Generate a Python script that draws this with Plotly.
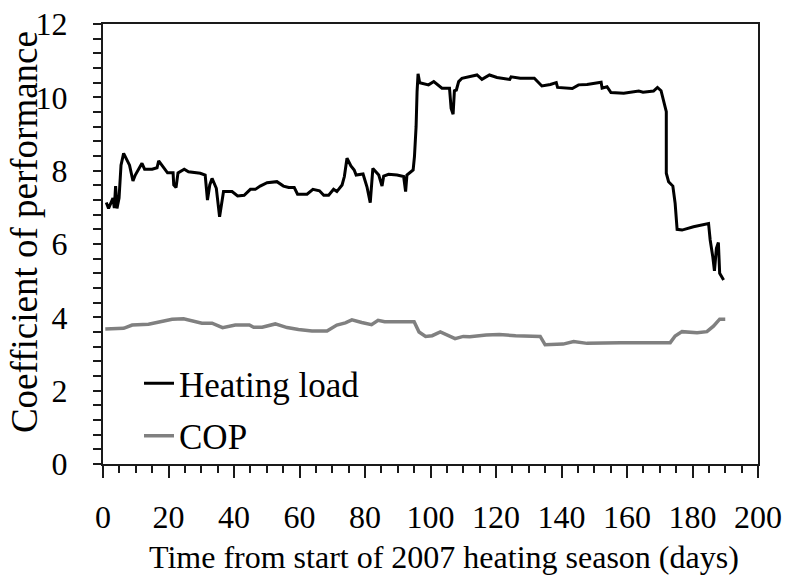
import plotly.graph_objects as go

# Heating load series (days, value)
heat_day = [1.0, 1.7, 3.05, 3.45, 3.85, 4.27, 4.9, 5.5, 6.3, 8.1, 9.15, 9.86, 11.9, 12.7, 15.0,
            16.5, 17.0, 18.0, 19.7, 21.4, 21.6, 22.3, 22.9, 24.8, 26.1, 29.7, 31.2, 31.9, 32.6,
            33.3, 34.6, 35.6, 36.8, 39.4, 41.1, 43.1, 45.0, 46.5, 48.0, 50.1, 53.1, 55.1, 56.7,
            58.4, 59.4, 62.3, 64.1, 66.1, 67.4, 68.9, 70.4, 71.4, 73.0, 73.7, 74.5, 75.7, 76.7,
            77.3, 79.4, 80.6, 81.6, 82.4, 84.2, 85.2, 85.7, 87.2, 89.8, 91.8, 92.4, 92.8, 94.7,
            95.1, 95.6, 95.9, 96.2, 96.7, 99.4, 101.0, 103.5, 105.8, 106.3, 106.9, 107.3, 107.9,
            108.6, 109.6, 114.2, 115.7, 118.0, 120.3, 124.2, 124.6, 127.4, 131.7, 134.0, 136.6,
            138.4, 138.8, 143.3, 145.2, 147.8, 152.1, 152.4, 153.9, 155.1, 159.0, 161.5, 163.6,
            164.9, 168.1, 169.3, 170.4, 172.0, 172.0, 172.7, 174.0, 174.7, 175.3, 176.8, 180.3,
            184.9, 185.4, 186.2, 186.7, 187.3, 187.9, 188.3, 189.5]
heat_val = [7.13, 6.97, 7.25, 6.98, 7.58, 6.97, 7.25, 8.15, 8.47, 8.15, 7.72, 7.88, 8.2, 8.04, 8.04,
            8.08, 8.27, 8.15, 7.94, 7.94, 7.61, 7.54, 7.94, 8.04, 7.97, 7.93, 7.88, 7.2, 7.61,
            7.79, 7.52, 6.74, 7.43, 7.43, 7.31, 7.33, 7.49, 7.49, 7.58, 7.67, 7.7, 7.58, 7.54,
            7.54, 7.36, 7.36, 7.49, 7.45, 7.33, 7.33, 7.49, 7.43, 7.61, 7.84, 8.34, 8.13, 8.02,
            7.88, 7.91, 7.56, 7.13, 8.06, 7.88, 7.58, 7.85, 7.9, 7.88, 7.84, 7.43, 7.88, 8.02,
            8.38, 9.2, 10.15, 10.64, 10.4, 10.34, 10.43, 10.25, 10.25, 9.7, 9.54, 10.18, 10.2,
            10.43, 10.52, 10.61, 10.49, 10.61, 10.54, 10.49, 10.56, 10.52, 10.52, 10.31, 10.35,
            10.4, 10.27, 10.24, 10.34, 10.35, 10.41, 10.25, 10.29, 10.13, 10.11, 10.15, 10.17,
            10.14, 10.17, 10.27, 10.18, 9.61, 7.93, 7.7, 7.58, 7.11, 6.4, 6.38, 6.47,
            6.56, 6.11, 5.65, 5.27, 5.88, 6.04, 5.2, 5.02]

# COP series (days, value)
cop_day = [0.7, 6.3, 8.9, 13.9, 17.5, 21.1, 24.6, 27.2, 30.2, 33.3, 36.5, 40.4, 44.7, 46.0, 48.6,
           52.6, 56.2, 59.7, 63.8, 68.4, 71.4, 74.0, 76.0, 79.0, 82.0, 84.0, 86.0, 95.0, 96.5,
           98.5, 100.5, 103.0, 105.0, 107.5, 110.0, 112.0, 117.0, 121.0, 126.0, 133.5, 135.0,
           138.0, 140.5, 143.7, 147.8, 158.0, 173.2, 174.7, 176.8, 181.4, 184.4, 186.4, 188.3, 190.0]
cop_val = [3.68, 3.7, 3.79, 3.81, 3.88, 3.95, 3.96, 3.91, 3.84, 3.84, 3.72, 3.79, 3.79, 3.73, 3.73,
           3.82, 3.72, 3.67, 3.63, 3.63, 3.79, 3.85, 3.93, 3.86, 3.8, 3.92, 3.88, 3.88, 3.6,
           3.48, 3.5, 3.6, 3.52, 3.42, 3.48, 3.47, 3.52, 3.53, 3.5, 3.48, 3.25,
           3.25, 3.27, 3.34, 3.29, 3.31, 3.31, 3.49, 3.61, 3.58, 3.61, 3.76, 3.95, 3.95]

series_names = ["Heating load", "COP"]
x_title = "Time from start of 2007 heating season (days)"
y_title = "Coefficient of performance"

FONT = "'Liberation Serif', 'Times New Roman', 'DejaVu Serif', serif"

fig = go.Figure()
fig.add_trace(go.Scatter(x=heat_day, y=heat_val, mode="lines", name=series_names[0],
                         legendgroup="a",
                         line=dict(color="#000000", width=3)))
fig.add_trace(go.Scatter(x=cop_day, y=cop_val, mode="lines", name=series_names[1],
                         legendgroup="b",
                         line=dict(color="#808080", width=3.5)))

axis_common = dict(showline=True, linecolor="#1a1a1a", linewidth=2, mirror=True,
                   showgrid=False, zeroline=False, ticks="outside", tickcolor="#1a1a1a",
                   tickwidth=2, automargin=False,
                   tickfont=dict(family=FONT, size=32, color="black"))

fig.update_xaxes(range=[0, 200], dtick=20, tick0=0, ticklen=12,
                 minor=dict(dtick=5, tick0=0, ticks="outside", ticklen=7, tickwidth=2,
                            tickcolor="#1a1a1a", showgrid=False),
                 ticklabelstandoff=12,
                 **axis_common)
fig.update_yaxes(range=[0, 12], dtick=2, tick0=0, ticklen=8,
                 minor=dict(dtick=0.4, tick0=0, ticks="outside", ticklen=8, tickwidth=2,
                            tickcolor="#1a1a1a", showgrid=False),
                 ticklabelstandoff=19,
                 **axis_common)

# axis titles (placed like the reference, slightly off-centre)
fig.add_annotation(text=x_title, xref="paper", yref="paper", x=0.52, y=-0.212,
                   xanchor="center", yanchor="middle", showarrow=False,
                   font=dict(family=FONT, size=32, color="black"))
fig.add_annotation(text=y_title, xref="paper", yref="paper", x=-0.12, y=0.528,
                   xanchor="center", yanchor="middle", showarrow=False, textangle=-90,
                   font=dict(family=FONT, size=37, color="black"))

fig.update_layout(
    width=788, height=577,
    margin=dict(l=103, r=30, t=24, b=113, pad=0),
    paper_bgcolor="white", plot_bgcolor="white",
    font=dict(family=FONT, size=32, color="black"),
    showlegend=True,
    legend=dict(x=0.055, y=0.25, xanchor="left", yanchor="top",
                bgcolor="rgba(0,0,0,0)", borderwidth=0,
                font=dict(family=FONT, size=35, color="black"),
                tracegroupgap=4, itemwidth=30),
)

# remove the browser's default 8px body margin so the figure fills the page
fig.write_html("out.html", config={"displayModeBar": False},
               post_script="document.body.style.margin='0';")
